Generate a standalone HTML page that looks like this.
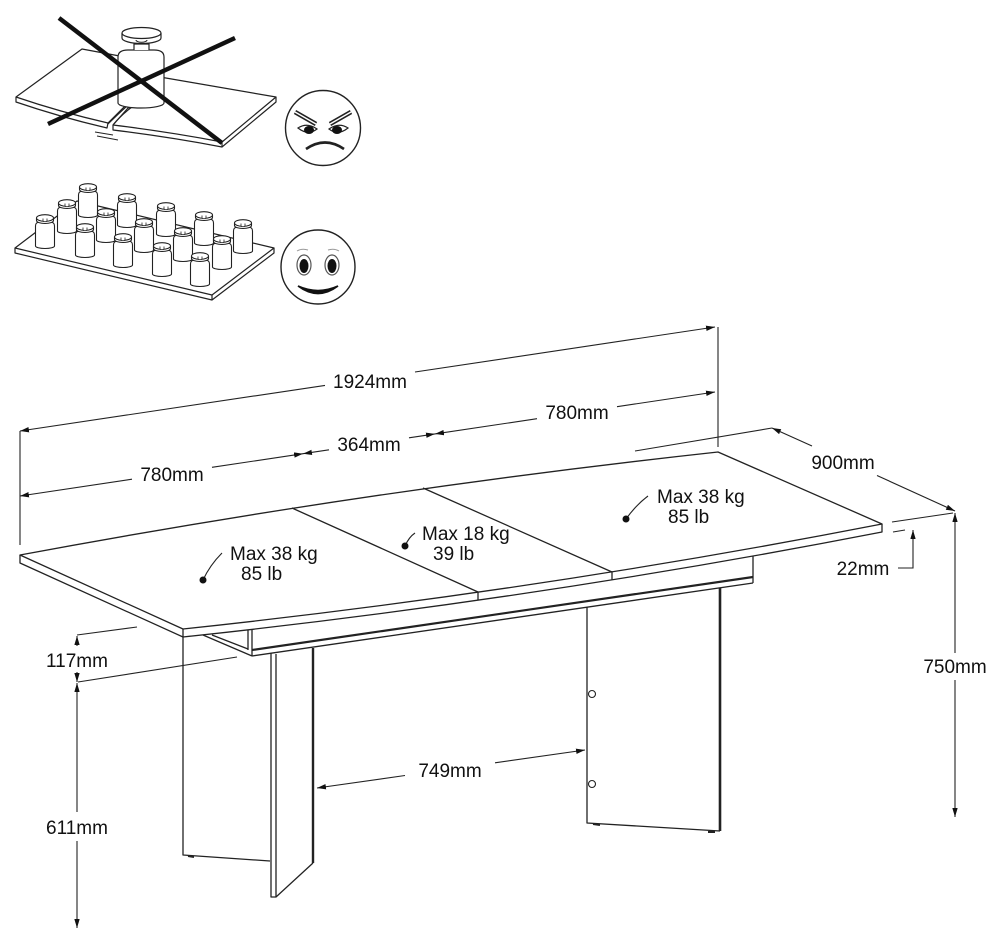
<!DOCTYPE html>
<html><head><meta charset="utf-8"><style>
html,body{margin:0;padding:0;background:#fff;}
svg{display:block;}
text{font-family:"Liberation Sans",Arial,sans-serif;font-size:19px;fill:#111;}
</style></head><body>
<svg width="1000" height="932" viewBox="0 0 1000 932" xmlns="http://www.w3.org/2000/svg">
<defs>
<marker id="ar" viewBox="0 0 10 6" refX="10" refY="3" markerWidth="9" markerHeight="5.4" markerUnits="userSpaceOnUse" orient="auto-start-reverse"><path d="M0,0L10,3L0,6z" fill="#111"/></marker>
<g id="wt">
 <path d="M-9.5,-2 V-22 Q-9.5,-26 -5,-26 H5 Q9.5,-26 9.5,-22 V-2 A9.5,2.5 0 0 1 -9.5,-2 Z" fill="#fff" stroke="#222" stroke-width="1.1"/>
 <path d="M-8.5,-30 V-27.5 A8.5,3 0 0 0 8.5,-27.5 V-30" fill="#fff" stroke="#222" stroke-width="1.1"/>
 <ellipse cx="0" cy="-30" rx="8.5" ry="3.3" fill="#fff" stroke="#222" stroke-width="1.1"/>
 <path d="M-2,-29.5 V-27.5 A2,1.2 0 0 0 2,-27.5 V-29.5" fill="#fff" stroke="#222" stroke-width="0.8"/>
</g>
</defs>

<!-- ===== Broken board illustration ===== -->
<g fill="#fff" stroke="#222" stroke-width="1.2" stroke-linejoin="round">
 <path d="M16,97 L82,49 L125,57 L125,106 L108,123 Q60,112 16,97 Z"/>
 <path d="M16,97 L16,102 Q60,117 107,128 L108,123" fill="none"/>
 <path d="M160,77 L276,97 L222,142 Q170,132 113,125 L128,108 L160,100 Z"/>
 <path d="M276,97 L276,102 L222,147 Q170,137 113,130 L113,125" fill="none"/>
 <path d="M222,142 L222,147" fill="none"/>
 <path d="M127,106 Q118,114 108,124" fill="none"/>
 <path d="M132,107 Q121,115 113,125" fill="none"/>
 <path d="M95,132 L113,135 M97,136 L118,140" fill="none" stroke-width="1"/>
 <path d="M118,103 V57 Q118,50 128,50 H154 Q164,50 164,57 V103 A23,5 0 0 1 118,103 Z"/>
 <path d="M134,50 V44 H149 V50" />
 <path d="M122,33 V38 A19.5,5.5 0 0 0 161,38 V33"/>
 <ellipse cx="141.5" cy="33" rx="19.5" ry="5.5"/>
 <path d="M136,40 A5,2 0 0 0 147,40" fill="none" stroke-width="1"/>
</g>
<g stroke="#111" stroke-width="4.5" stroke-linecap="butt">
 <line x1="59" y1="18" x2="222" y2="143"/>
 <line x1="48" y1="124" x2="235" y2="38"/>
</g>

<!-- Angry face -->
<g stroke="#222" fill="none">
 <circle cx="323" cy="128" r="37.5" fill="#fff" stroke-width="1.4"/>
 <path d="M295,112 L316,124" stroke-width="4.5"/>
 <path d="M295,112 L316,124" stroke="#fff" stroke-width="1.4"/>
 <path d="M351,112 L330,124" stroke-width="4.5"/>
 <path d="M351,112 L330,124" stroke="#fff" stroke-width="1.4"/>
 <path d="M298,128 Q307,122 317,129 Q308,136 298,128Z" fill="#fff" stroke-width="1.2"/>
 <ellipse cx="309" cy="130" rx="5" ry="4" fill="#111" stroke="none"/>
 <path d="M348,128 Q339,122 329,129 Q338,136 348,128Z" fill="#fff" stroke-width="1.2"/>
 <ellipse cx="337" cy="130" rx="5" ry="4" fill="#111" stroke="none"/>
 <path d="M306,149 Q325,136 344,149" stroke-width="2.6"/>
</g>

<!-- ===== Weights board ===== -->
<g fill="#fff" stroke="#222" stroke-width="1.2" stroke-linejoin="round">
 <path d="M15,248 L77,201 L274,248 L212,295 Z"/>
 <path d="M15,248 L15,253 L212,300 L274,253 L274,248 M212,295 L212,300" fill="none"/>
</g>
<use href="#wt" x="88" y="217"/>
<use href="#wt" x="127" y="227"/>
<use href="#wt" x="67" y="233"/>
<use href="#wt" x="166" y="236"/>
<use href="#wt" x="106" y="242"/>
<use href="#wt" x="204" y="245"/>
<use href="#wt" x="45" y="248"/>
<use href="#wt" x="144" y="252"/>
<use href="#wt" x="243" y="253"/>
<use href="#wt" x="85" y="257"/>
<use href="#wt" x="183" y="261"/>
<use href="#wt" x="123" y="267"/>
<use href="#wt" x="222" y="269"/>
<use href="#wt" x="162" y="276"/>
<use href="#wt" x="200" y="286"/>

<!-- Happy face -->
<g stroke="#222" fill="none">
 <circle cx="318" cy="267" r="37" fill="#fff" stroke-width="1.4"/>
 <path d="M297,251 Q302,248 308,250 M328,250 Q334,248 339,251" stroke="#999" stroke-width="1"/>
 <ellipse cx="304" cy="265" rx="7" ry="10" fill="#fff" stroke="#555" stroke-width="1.2"/>
 <ellipse cx="304" cy="266" rx="4.5" ry="7" fill="#111" stroke="none"/>
 <ellipse cx="332" cy="265" rx="7" ry="10" fill="#fff" stroke="#555" stroke-width="1.2"/>
 <ellipse cx="332" cy="266" rx="4.5" ry="7" fill="#111" stroke="none"/>
 <path d="M298,286 Q318,301 338,286 Q318,295 298,286Z" fill="#111" stroke="#111" stroke-width="1.6"/>
</g>

<!-- ===== Table ===== -->
<g fill="none" stroke="#222" stroke-width="1.3" stroke-linejoin="round">
 <path d="M20,555 Q369,490 718,452 L882,524 Q532,592 183,629 Z" fill="#fff"/>
 <path d="M183,629 L183,637 Q532,600 882,532 L882,524"/>
 <path d="M20,555 L20,563 L183,637"/>
 <path d="M292,508 L478,592 L478,600"/>
 <path d="M423,488 L612,572 L612,580"/>
 <path d="M252,650 L753,577" stroke-width="2.2"/>
 <path d="M252,656 L753,583"/>
 <path d="M753,556 L753,583"/>
 <path d="M203,635 L252,656"/>
 <path d="M212,635 L248,649"/>
 <path d="M248,630 L248,650 M252,630 L252,656"/>
 <path d="M183,637 L183,855 L270,861"/>
 <path d="M271,653 L271,897 L276,897 L276,654"/>
 <path d="M313,648 L313,863" stroke-width="2.4"/>
 <path d="M276,897 L313,863"/>
 <path d="M188,856 L194,857" stroke-width="2"/>
 <path d="M587,607 L587,823 L720,831"/>
 <path d="M720,588 L720,831" stroke-width="2.6"/>
 <path d="M593,824 L600,825 M708,832 L715,832" stroke-width="2"/>
 <circle cx="592" cy="694" r="3.5" fill="#fff" stroke-width="1.1"/>
 <circle cx="592" cy="784" r="3.5" fill="#fff" stroke-width="1.1"/>
</g>

<!-- ===== Dimension lines ===== -->
<g fill="none" stroke="#222" stroke-width="1.1">
 <path d="M20,431 L20,545"/>
 <path d="M718,327 L718,447"/>
 <path d="M20,431 L325,385.4" marker-start="url(#ar)"/>
 <path d="M415,372 L715,327" marker-end="url(#ar)"/>
 <path d="M20,496 L132,479.2" marker-start="url(#ar)"/>
 <path d="M212,467.3 L303,453.7" marker-end="url(#ar)"/>
 <path d="M303,453.7 L329,449.8" marker-start="url(#ar)"/>
 <path d="M409,437.8 L435,433.9" marker-end="url(#ar)"/>
 <path d="M435,433.9 L537,418.7" marker-start="url(#ar)"/>
 <path d="M617,406.7 L715,392" marker-end="url(#ar)"/>
 <path d="M635,451 L772,428"/>
 <path d="M772,428 L812,446" marker-start="url(#ar)"/>
 <path d="M877,475.5 L955,511" marker-end="url(#ar)"/>
 <path d="M892,522 L953,513"/>
 <path d="M955,513 L955,653" marker-start="url(#ar)"/>
 <path d="M955,680 L955,817" marker-end="url(#ar)"/>
 <path d="M893,532 L905,530"/>
 <path d="M913,530 L913,568 L898,568" marker-start="url(#ar)"/>
 <path d="M317,788 L405,775.5" marker-start="url(#ar)"/>
 <path d="M495,762.8 L585,750" marker-end="url(#ar)"/>
 <path d="M77,635 L137,627"/>
 <path d="M78,682 L237,657"/>
 <path d="M77,636 L77,646" marker-start="url(#ar)"/>
 <path d="M77,672 L77,682" marker-end="url(#ar)"/>
 <path d="M77,683 L77,812" marker-start="url(#ar)"/>
 <path d="M77,841 L77,928" marker-end="url(#ar)"/>
 <path d="M203,580 Q210,565 222,553"/>
 <path d="M405,546 Q409,537 415,533"/>
 <path d="M626,519 Q636,505 648,496"/>
</g>
<g fill="#111">
 <circle cx="203" cy="580" r="3.5"/>
 <circle cx="405" cy="546" r="3.5"/>
 <circle cx="626" cy="519" r="3.5"/>
</g>

<g text-anchor="middle">
 <text x="370" y="388">1924mm</text>
 <text x="369" y="451">364mm</text>
 <text x="172" y="481">780mm</text>
 <text x="577" y="419">780mm</text>
 <text x="843" y="469">900mm</text>
 <text x="863" y="575">22mm</text>
 <text x="450" y="777">749mm</text>
 <text x="955" y="673">750mm</text>
 <text x="77" y="667">117mm</text>
 <text x="77" y="834">611mm</text>
</g>
<text x="230" y="560">Max 38 kg</text>
<text x="241" y="580">85 lb</text>
<text x="422" y="540">Max 18 kg</text>
<text x="433" y="560">39 lb</text>
<text x="657" y="503">Max 38 kg</text>
<text x="668" y="523">85 lb</text>
</svg>
</body></html>
